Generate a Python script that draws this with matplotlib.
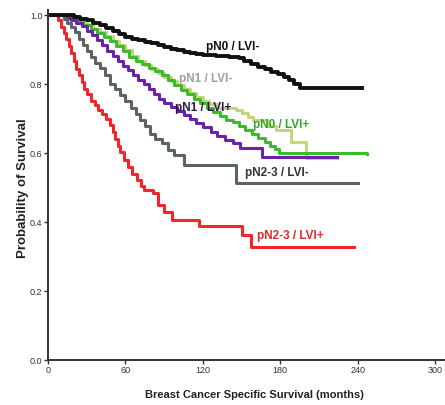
import matplotlib
matplotlib.use("Agg")
import matplotlib.pyplot as plt

plt.rcParams['font.family'] = ['Liberation Sans', 'DejaVu Sans']

# Kaplan-Meier curves: (months, survival)
t_pn0_neg = [0, 15, 20, 25, 30, 35, 40, 45, 50, 55, 60, 65, 70, 75, 80, 85, 90, 95, 100,
             105, 110, 115, 120, 130, 140, 148, 152, 157, 163, 168, 173, 178, 183, 187,
             191, 195, 243]
s_pn0_neg = [1.0, 1.0, 0.995, 0.99, 0.985, 0.978, 0.97, 0.962, 0.953, 0.945, 0.938, 0.932,
             0.927, 0.923, 0.919, 0.914, 0.908, 0.903, 0.898, 0.894, 0.891, 0.888, 0.885,
             0.881, 0.878, 0.876, 0.868, 0.858, 0.85, 0.843, 0.836, 0.829, 0.822, 0.813,
             0.8, 0.79, 0.788]

t_pn1_neg = [0, 10, 15, 20, 25, 30, 35, 40, 45, 50, 55, 60, 65, 70, 75, 80, 85, 90, 95,
             100, 105, 110, 115, 120, 125, 131, 146, 150, 155, 159, 170, 177, 188, 200, 224]
s_pn1_neg = [1.0, 1.0, 0.995, 0.988, 0.98, 0.97, 0.96, 0.95, 0.94, 0.925, 0.912, 0.898,
             0.882, 0.868, 0.855, 0.843, 0.833, 0.822, 0.81, 0.797, 0.785, 0.773, 0.762,
             0.752, 0.742, 0.73, 0.725, 0.715, 0.705, 0.696, 0.68, 0.667, 0.632, 0.586,
             0.585]

t_pn0_pos = [0, 8, 12, 17, 22, 27, 33, 38, 43, 48, 53, 58, 63, 68, 73, 78, 83, 88, 93, 98,
             103, 108, 113, 118, 123, 128, 133, 138, 143, 148, 153, 158, 163, 168, 172,
             176, 179, 247]
s_pn0_pos = [1.0, 1.0, 0.995, 0.99, 0.983, 0.972, 0.96, 0.948, 0.937, 0.925, 0.91, 0.895,
             0.88, 0.867, 0.857, 0.848, 0.838, 0.826, 0.812, 0.797, 0.783, 0.77, 0.758,
             0.745, 0.732, 0.72, 0.708, 0.697, 0.69, 0.68, 0.666, 0.655, 0.645, 0.632,
             0.622, 0.612, 0.6, 0.598]

t_pn1_pos = [0, 10, 14, 18, 22, 26, 30, 34, 38, 42, 46, 50, 54, 58, 62, 66, 70, 74, 78, 82,
             86, 90, 95, 100, 105, 110, 115, 120, 126, 131, 137, 143, 149, 166, 224]
s_pn1_pos = [1.0, 1.0, 0.993, 0.985, 0.977, 0.968, 0.955, 0.942, 0.928, 0.912, 0.897,
             0.882, 0.867, 0.852, 0.84, 0.826, 0.812, 0.8, 0.787, 0.772, 0.758, 0.745,
             0.733, 0.722, 0.71, 0.698, 0.686, 0.675, 0.66, 0.65, 0.638, 0.628, 0.614,
             0.588, 0.588]

t_pn23_neg = [0, 9, 12, 15, 18, 21, 24, 27, 30, 33, 36, 40, 44, 48, 52, 56, 60, 64, 68, 71,
              75, 79, 83, 88, 93, 98, 105, 146, 240]
s_pn23_neg = [1.0, 1.0, 0.99, 0.978, 0.965, 0.95, 0.93, 0.912, 0.895, 0.878, 0.862, 0.847,
              0.825, 0.8, 0.785, 0.768, 0.75, 0.732, 0.714, 0.697, 0.68, 0.655, 0.642,
              0.628, 0.61, 0.594, 0.566, 0.513, 0.513]

t_pn23_pos = [0, 6, 8, 10, 12, 14, 16, 18, 20, 22, 24, 26, 28, 30, 33, 36, 39, 42, 45, 48,
              50, 52, 54, 56, 59, 62, 65, 69, 72, 74, 81, 85, 90, 96, 117, 150, 157, 237]
s_pn23_pos = [1.0, 1.0, 0.985, 0.965, 0.948, 0.93, 0.91, 0.89, 0.868, 0.845, 0.825, 0.805,
              0.787, 0.77, 0.752, 0.738, 0.725, 0.712, 0.698, 0.682, 0.662, 0.642, 0.622,
              0.603, 0.58, 0.56, 0.54, 0.522, 0.505, 0.493, 0.484, 0.449, 0.43, 0.406,
              0.388, 0.362, 0.328, 0.328]

x_ticks = [0, 60, 120, 180, 240, 300]
y_ticks = [0.0, 0.2, 0.4, 0.6, 0.8, 1.0]

fig = plt.figure(figsize=(4.45, 4.05), dpi=100)
ax = fig.add_axes([0.108, 0.111, 0.89, 0.864])

ax.plot(t_pn1_neg, s_pn1_neg, drawstyle='steps-post', color='#c9d27d', lw=2.2)
ax.plot(t_pn0_pos, s_pn0_pos, drawstyle='steps-post', color='#3dbb2e', lw=2.2)
ax.plot(t_pn1_pos, s_pn1_pos, drawstyle='steps-post', color='#6b22a8', lw=2.2)
ax.plot(t_pn23_neg, s_pn23_neg, drawstyle='steps-post', color='#5b6364', lw=2.2)
ax.plot(t_pn23_pos, s_pn23_pos, drawstyle='steps-post', color='#f0262a', lw=2.2)
ax.plot(t_pn0_neg, s_pn0_neg, drawstyle='steps-post', color='#111111', lw=2.8)

lab = dict(fontsize=8.5, fontweight='bold', ha='center', va='center')
ax.text(143, 0.907, 'pN0 / LVI-', color='#111111', **lab)
ax.text(122, 0.815, 'pN1 / LVI-', color='#a0a0a0', **lab)
ax.text(120, 0.731, 'pN1 / LVI+', color='#2e1a40', **lab)
ax.text(181, 0.681, 'pN0 / LVI+', color='#2fa82a', **lab)
ax.text(177, 0.542, 'pN2-3 / LVI-', color='#333333', **lab)
ax.text(188, 0.36, 'pN2-3 / LVI+', color='#e02a2a', **lab)

ax.set_xlim(0, 307)
ax.set_ylim(0, 1.0145)
ax.set_xticks(x_ticks)
ax.set_yticks(y_ticks)
ax.set_yticklabels(['%.1f' % v for v in y_ticks])
ax.tick_params(labelsize=6.5, length=3, width=1, colors='#333333', pad=1)

for side in ['top', 'right']:
    ax.spines[side].set_visible(False)
for side in ['left', 'bottom']:
    ax.spines[side].set_color('#3a3030')
    ax.spines[side].set_linewidth(1.4)

ax.set_xlabel('Breast Cancer Specific Survival (months)', fontsize=8,
              fontweight='bold', color='#222222')
ax.xaxis.set_label_coords(0.52, -0.085)
ax.set_ylabel('Probability of Survival', fontsize=9.5, fontweight='bold',
              color='#222222')
ax.yaxis.set_label_coords(-0.048, 0.49)

fig.savefig('out.png', dpi=100)
